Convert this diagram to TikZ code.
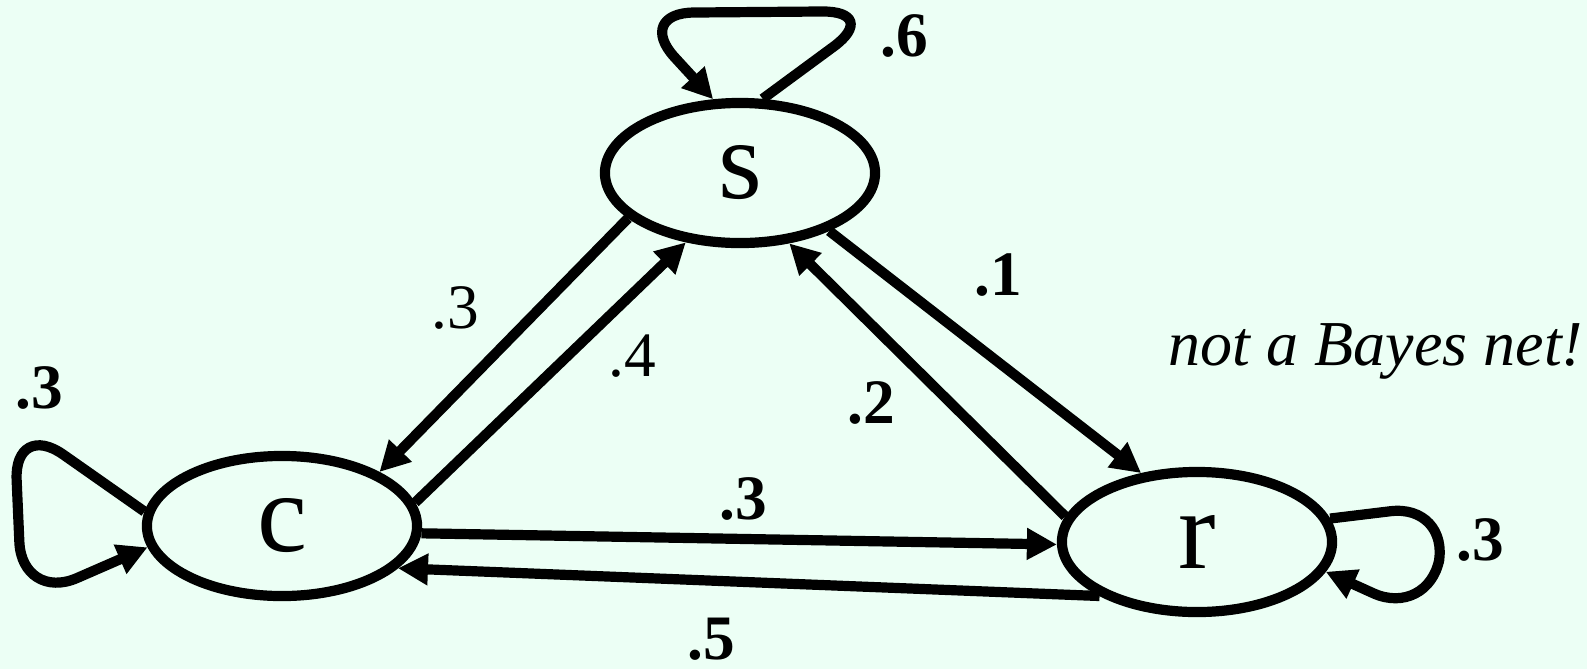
\documentclass[tikz,border=0pt]{standalone}
\usepackage{fontspec}
\setmainfont{Liberation Serif}
\usetikzlibrary{arrows.meta,shapes.geometric}
\definecolor{mintbg}{RGB}{236,255,245}

\begin{document}
\begin{tikzpicture}[x=0.01cm, y=-0.01cm,
  >={Triangle[length=3mm, width=3mm]},
  st/.style={ellipse, draw=black, line width=2.9pt, minimum width=2.7cm,
             minimum height=1.4cm, inner sep=0pt,
             font=\fontsize{32}{32}\selectfont},
  tr/.style={->, line width=2.9pt},
  selfloop/.style={->, line width=2.9pt, rounded corners=0.6cm},
  prob/.style={font=\fontsize{18}{18}\selectfont\bfseries, inner sep=0pt},
  probr/.style={font=\fontsize{18}{18}\selectfont, inner sep=0pt},
]
\fill[mintbg] (0,0) rectangle (1587,669);
\useasboundingbox (0,0) rectangle (1587,669);

\node[st] (s) at (740,173) {s};
\node[st] (c) at (282,526) {c};
\node[st] (r) at (1197,542) {r};

% transitions between states
\draw[tr] (s.202.6) -- (c.29.7);
\draw[tr] (c.10) -- (s.232);
\draw[tr] (s.327.7) -- (r.129);
\draw[tr] (r.169.5) -- (s.305.6);
\draw[tr] (c.357.5) -- (r.181);
\draw[tr] (r.209) -- (c.340);

% self loops
\draw[selfloop] (s.73) -- (882,11) -- (634,13) -- (s.110);
\draw[selfloop] (c.174) -- (14,420) -- (22,602) -- (c.189);
\draw[selfloop] (r.10) -- (1450,504) -- (1428,618) -- (r.347);

\node[prob] (p-ss) at (904,36) {.6};
\node[prob] (p-cc) at (39,388) {.3};
\node[probr] (p-sc) at (455,308) {.3};
\node[probr] (p-cs) at (632,356) {.4};
\node[prob] (p-sr) at (998,275) {.1};
\node[prob] (p-rs) at (871,403) {.2};
\node[prob] (p-cr) at (743,499) {.3};
\node[prob] (p-rc) at (711,639) {.5};
\node[prob] (p-rr) at (1480,540) {.3};

\node[font=\fontsize{18.2}{18.2}\selectfont\itshape, anchor=base, inner sep=0pt]
  (note) at (1376,365) {not a Bayes net!};
\end{tikzpicture}
\end{document}
